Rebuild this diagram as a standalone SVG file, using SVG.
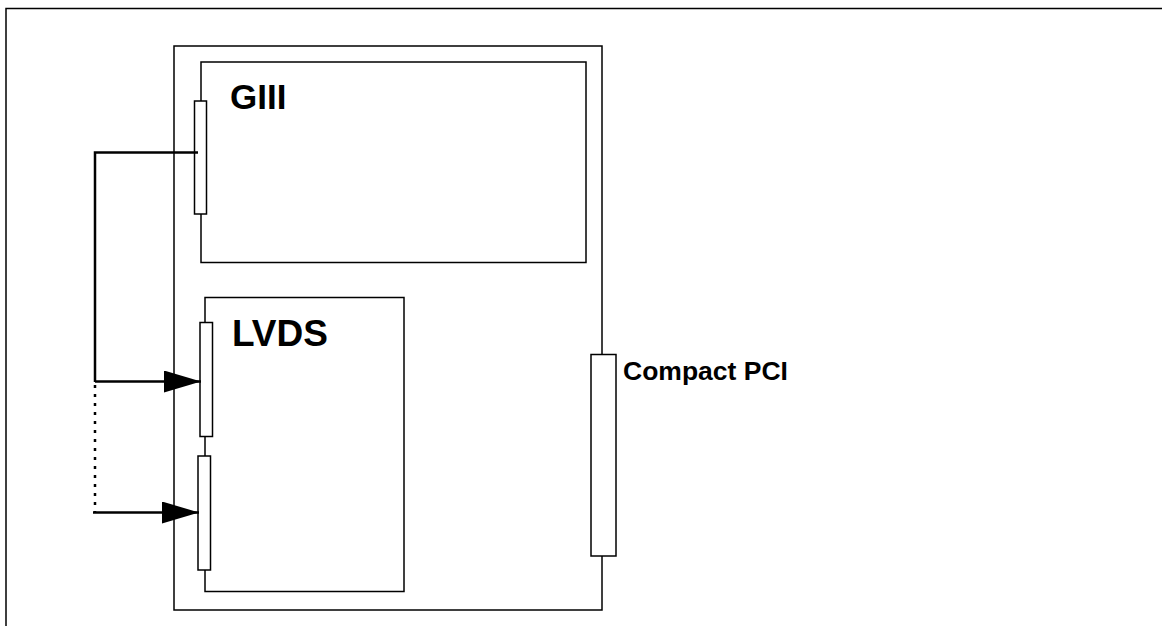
<svg xmlns="http://www.w3.org/2000/svg" width="1162" height="626" viewBox="0 0 1162 626">
<defs>
<style>
.box{fill:#fff;stroke:#000;stroke-width:1.5}
.conn{fill:#fff;stroke:#000;stroke-width:1.5}
.wire{fill:none;stroke:#000;stroke-width:2.5}
.dot{fill:none;stroke:#000;stroke-width:2.5;stroke-dasharray:3 6}
.lbl{font-family:"Liberation Sans",Arial,sans-serif;font-weight:bold;fill:#000}
</style>
<marker id="ah" markerUnits="userSpaceOnUse" markerWidth="38" markerHeight="22" refX="37" refY="11" orient="auto">
<path d="M0,0 L37,11 L0,22 Z" fill="#000"/>
</marker>
</defs>
<rect width="1162" height="626" fill="#fff"/>
<g id="frame">
<path d="M6,626 L6,8.5 L1162,8.5" fill="none" stroke="#000" stroke-width="1.5"/>
</g>
<g id="board">
<rect class="box" x="174" y="46" width="428" height="564"/>
</g>
<g id="giii">
<rect class="box" x="201" y="62" width="385" height="200.5"/>
<rect class="conn" x="194.5" y="101" width="12" height="113"/>
<text class="lbl" x="230" y="109" font-size="35">GIII</text>
</g>
<g id="lvds">
<rect class="box" x="205" y="297.5" width="199" height="294"/>
<rect class="conn" x="200" y="322.5" width="12.5" height="114"/>
<rect class="conn" x="198" y="456" width="12.5" height="114"/>
<text class="lbl" x="232" y="346" font-size="37">LVDS</text>
</g>
<g id="compactpci">
<rect class="conn" x="591" y="354.5" width="25" height="201.5"/>
<text class="lbl" x="623" y="380" font-size="26.5">Compact PCI</text>
</g>
<g id="connectors">
<path class="wire" d="M198,152.5 L95,152.5 L95,382"/>
<path class="wire" d="M95,381.5 L201,381.5" marker-end="url(#ah)"/>
<path class="dot" d="M95,385 L95,512"/>
<path class="wire" d="M93,512.5 L199,512.5" marker-end="url(#ah)"/>
</g>
</svg>
